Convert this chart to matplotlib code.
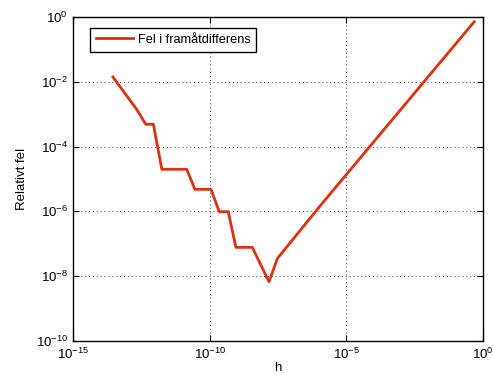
import matplotlib.pyplot as plt
import numpy as np
from matplotlib.ticker import NullLocator

plt.rcParams['font.family'] = ['Liberation Sans', 'DejaVu Sans']

# log10 of h and relative error
log_h = [-13.54, -12.67, -12.34, -12.06, -11.75, -10.84, -10.54, -9.95,
         -9.65, -9.32, -9.04, -8.44, -7.83, -7.52, -5.96, -0.32]
log_err = [-1.85, -2.85, -3.31, -3.31, -4.70, -4.70, -5.32, -5.32,
           -6.01, -6.01, -7.11, -7.11, -8.17, -7.45, -5.83, -0.145]

h = 10.0 ** np.array(log_h)
err = 10.0 ** np.array(log_err)

fig = plt.figure(figsize=(4.94, 3.75), dpi=100)
ax = fig.add_axes([73 / 494, 1 - 341 / 375, 410 / 494, 324 / 375])

ax.loglog(h, err, color='#dc3212', lw=2, label='Fel i framåtdifferens')

ax.set_xlim(1e-15, 1e0)
ax.set_ylim(1e-10, 1e0)
ax.set_xticks([1e-15, 1e-10, 1e-5, 1e0])
ax.set_yticks([1e-10, 1e-8, 1e-6, 1e-4, 1e-2, 1e0])
ax.xaxis.set_minor_locator(NullLocator())
ax.yaxis.set_minor_locator(NullLocator())
ax.tick_params(direction='in', top=True, right=True, labelsize=9.5, length=4)
ax.tick_params(axis='x', pad=4)

ax.grid(True, which='major', linestyle=(0, (1, 3)), color='#444444', lw=0.7)
for s in ax.spines.values():
    s.set_linewidth(1.0)

ax.set_xlabel('h', fontsize=9.5, labelpad=0)
ax.set_ylabel('Relativt fel', fontsize=9.5, labelpad=6)

leg = ax.legend(loc='upper left', bbox_to_anchor=(0.041, 0.966), fontsize=9.2,
                fancybox=False, edgecolor='black', framealpha=1,
                handlelength=2.9, handletextpad=0.4, borderpad=0.45,
                borderaxespad=0)
leg.get_frame().set_linewidth(1.0)

fig.savefig('out.png', dpi=100)
